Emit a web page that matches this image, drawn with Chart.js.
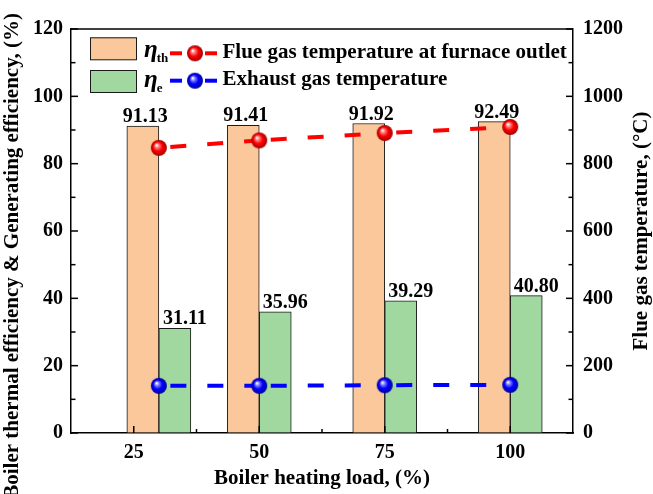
<!DOCTYPE html>
<html><head><meta charset="utf-8">
<script src="https://cdn.jsdelivr.net/npm/chart.js@4.4.0/dist/chart.umd.min.js"></script>
<style>html,body{margin:0;padding:0;background:#fff;}canvas{display:block;}</style>
</head><body>
<canvas id="c" width="653" height="494"></canvas>
<script>
// ---- data ----
const loads = [30, 50, 75, 100];               // x position of each group
const xTickLabels = [25, 50, 75, 100];
const etaTh = [91.13, 91.41, 91.92, 92.49];      // boiler thermal efficiency (%)
const etaE = [31.11, 35.96, 39.29, 40.80];       // generating efficiency (%)
const furnaceOutletTemp = [847, 869, 891, 909];  // °C
const exhaustTemp = [140, 140, 142, 143];        // °C
const leftTickValues = [0, 20, 40, 60, 80, 100, 120];
const rightTickValues = [0, 200, 400, 600, 800, 1000, 1200];
const barSymbols = ['η', 'η'];
const barSubscripts = ['th', 'e'];
const lineLabels = ['Flue gas temperature at furnace outlet', 'Exhaust gas temperature'];

const FONT = "'Liberation Serif', 'Times New Roman', serif";
const ORANGE = '#FAC89B', GREEN = '#A0D8A0';

function sphere(base, light, dark, r) {
  const s = Math.ceil(r * 2 + 2);
  const c = document.createElement('canvas');
  c.width = s; c.height = s;
  const g = c.getContext('2d');
  const cx = s / 2, cy = s / 2;
  const grad = g.createRadialGradient(cx - r * 0.3, cy - r * 0.35, r * 0.05, cx, cy, r);
  grad.addColorStop(0, '#ffffff');
  grad.addColorStop(0.22, light);
  grad.addColorStop(0.55, base);
  grad.addColorStop(1, dark);
  g.fillStyle = grad;
  g.beginPath(); g.arc(cx, cy, r, 0, Math.PI * 2); g.fill();
  return c;
}
const redBall = sphere('#ff0000', '#ff8080', '#a00000', 8);
const blueBall = sphere('#0000ff', '#8080ff', '#0000a0', 8);

const DASH = [16, 21];
const DASH_OFFSET = 25.5;

function lineDataset(label, values, color, ball) {
  return {
    type: 'line', label,
    data: loads.map((x, i) => ({ x, y: values[i] })),
    yAxisID: 'y2', xAxisID: 'x',
    borderColor: color, backgroundColor: color,
    borderWidth: 4, borderDash: DASH, borderDashOffset: DASH_OFFSET,
    segment: { borderDashOffset: c => DASH_OFFSET + c.p0DataIndex * 0.001 },
    pointStyle: ball, pointRadius: 8, pointHoverRadius: 8,
    fill: false, tension: 0, order: 0
  };
}
function barDataset(label, values, color) {
  return {
    type: 'bar', label,
    data: loads.map((x, i) => ({ x, y: values[i] })),
    yAxisID: 'y', xAxisID: 'x',
    backgroundColor: color, borderColor: '#1a1a1a', borderWidth: 1,
    barThickness: 32, order: 1
  };
}

function drawLine(ctx, x1, y1, x2, y2) {
  ctx.beginPath(); ctx.moveTo(x1, y1); ctx.lineTo(x2, y2); ctx.stroke();
}

const axisDecor = {
  id: 'axisDecor',
  afterDatasetsDraw(chart) {
    const { ctx, chartArea: a, scales } = chart;
    ctx.save();
    ctx.strokeStyle = '#000';
    ctx.lineWidth = 1.5;
    drawLine(ctx, a.left, a.top, a.right, a.top);
    // x ticks (inward) + minor
    const xs = scales.x;
    const xStep = xTickLabels[1] - xTickLabels[0];
    xTickLabels.forEach(v => {
      const p = xs.getPixelForValue(v);
      drawLine(ctx, p, a.bottom, p, a.bottom - 7);
    });
    xTickLabels.forEach(v => {
      const m = v + xStep / 2;
      if (m < xs.max) { const p = xs.getPixelForValue(m); drawLine(ctx, p, a.bottom, p, a.bottom - 4); }
    });
    // left y
    const ys = scales.y;
    const yStep = leftTickValues[1] - leftTickValues[0];
    leftTickValues.forEach(v => {
      const p = ys.getPixelForValue(v);
      drawLine(ctx, a.left, p, a.left + 7, p);
      const m = v + yStep / 2;
      if (m < ys.max) { const q = ys.getPixelForValue(m); drawLine(ctx, a.left, q, a.left + 4.5, q); }
    });
    const y2 = scales.y2;
    const y2Step = rightTickValues[1] - rightTickValues[0];
    rightTickValues.forEach(v => {
      const p = y2.getPixelForValue(v);
      drawLine(ctx, a.right, p, a.right - 7, p);
      const m = v + y2Step / 2;
      if (m < y2.max) { const q = y2.getPixelForValue(m); drawLine(ctx, a.right, q, a.right - 4.5, q); }
    });
    ctx.restore();

    // value labels above bars
    ctx.save();
    ctx.fillStyle = '#000';
    ctx.font = 'bold 20px ' + FONT;
    ctx.textAlign = 'center';
    ctx.textBaseline = 'alphabetic';
    const shifts = [2.5, 10];
    [2, 3].forEach((di, k) => {
      const meta = chart.getDatasetMeta(di);
      const vals = k === 0 ? etaTh : etaE;
      meta.data.forEach((el, i) => {
        ctx.fillText(vals[i].toFixed(2), el.x + shifts[k], el.y - 4);
      });
    });
    ctx.restore();
  },
  afterDraw(chart) {
    const { ctx, chartArea: a } = chart;
    const ds = chart.data.datasets;
    ctx.save();
    // y titles
    ctx.fillStyle = '#000';
    ctx.font = 'bold 21px ' + FONT;
    ctx.textBaseline = 'middle';
    ctx.save();
    ctx.translate(13, 13);
    ctx.rotate(-Math.PI / 2);
    ctx.textAlign = 'right';
    ctx.fillText('Boiler thermal efficiency & Generating efficiency, (%)', 0, 0);
    ctx.restore();
    ctx.save();
    ctx.translate(642, (a.top + a.bottom) / 2);
    ctx.rotate(-Math.PI / 2);
    ctx.textAlign = 'center';
    ctx.fillText('Flue gas temperature, (°C)', 0, 0);
    ctx.restore();

    // legend
    const rows = [
      { bar: ds[2], line: ds[0], ball: redBall, rectY: 37.3, etaBase: 57, subBase: 62, lineY: 53.3, textBase: 57.5 },
      { bar: ds[3], line: ds[1], ball: blueBall, rectY: 70, etaBase: 87, subBase: 92, lineY: 80.7, textBase: 85 }
    ];
    rows.forEach((r, i) => {
      ctx.fillStyle = r.bar.backgroundColor;
      ctx.fillRect(90, r.rectY, 46.7, 22.7);
      ctx.strokeStyle = r.bar.borderColor;
      ctx.lineWidth = 1;
      ctx.strokeRect(90.5, r.rectY + 0.5, 46, 22);
      ctx.fillStyle = '#000';
      ctx.textAlign = 'left';
      ctx.textBaseline = 'alphabetic';
      ctx.font = 'italic bold 25px ' + FONT;
      ctx.fillText(barSymbols[i], 144, r.etaBase);
      const w = ctx.measureText(barSymbols[i]).width;
      ctx.font = 'bold 13px ' + FONT;
      ctx.fillText(barSubscripts[i], 144 + w - 1, r.subBase);
      ctx.strokeStyle = r.line.borderColor;
      ctx.lineWidth = 4;
      drawLine(ctx, 170, r.lineY, 182, r.lineY);
      drawLine(ctx, 205, r.lineY, 217, r.lineY);
      ctx.drawImage(r.ball, 195 - r.ball.width / 2, r.lineY - r.ball.height / 2);
      ctx.fillStyle = '#000';
      ctx.font = 'bold 21px ' + FONT;
      ctx.fillText(r.line.label, 222.5, r.textBase);
    });
    ctx.restore();
  }
};

const tickFont = { family: FONT, size: 20, weight: 'bold' };
const plainTicks = v => String(v);

new Chart(document.getElementById('c'), {
  type: 'bar',
  data: {
    datasets: [
      lineDataset(lineLabels[0], furnaceOutletTemp, '#ff0000', redBall),
      lineDataset(lineLabels[1], exhaustTemp, '#0000ff', blueBall),
      barDataset(barSymbols[0] + barSubscripts[0], etaTh, ORANGE),
      barDataset(barSymbols[1] + barSubscripts[1], etaE, GREEN)
    ]
  },
  options: {
    responsive: false,
    animation: false,
    devicePixelRatio: 1,
    layout: { padding: { top: 29, left: 0, right: 0, bottom: 0 } },
    plugins: { legend: { display: false }, tooltip: { enabled: false } },
    scales: {
      x: {
        type: 'linear', position: 'bottom', min: 12.5, max: 112.5, offset: false,
        afterBuildTicks: s => { s.ticks = xTickLabels.map(v => ({ value: v })); },
        afterFit: s => { s.height = 61; },
        ticks: { color: '#000', font: tickFont, padding: 7.5, maxRotation: 0, autoSkip: false, callback: plainTicks },
        grid: { display: true, drawOnChartArea: false, drawTicks: false },
        border: { display: true, color: '#000', width: 1.5 },
        title: { display: true, text: 'Boiler heating load, (%)', color: '#000',
                 font: { family: FONT, size: 21, weight: 'bold' }, padding: { top: 0, bottom: 3 } }
      },
      y: {
        type: 'linear', position: 'left', min: 0, max: 120,
        afterBuildTicks: s => { s.ticks = leftTickValues.map(v => ({ value: v })); },
        afterFit: s => { s.width = 71; },
        ticks: { color: '#000', font: tickFont, padding: 8, callback: plainTicks },
        grid: { display: true, drawOnChartArea: false, drawTicks: false },
        border: { display: true, color: '#000', width: 1.5 }
      },
      y2: {
        type: 'linear', position: 'right', min: 0, max: 1200,
        afterBuildTicks: s => { s.ticks = rightTickValues.map(v => ({ value: v })); },
        afterFit: s => { s.width = 80; },
        ticks: { color: '#000', font: tickFont, padding: 10, callback: plainTicks },
        grid: { display: true, drawOnChartArea: false, drawTicks: false },
        border: { display: true, color: '#000', width: 1.5 }
      }
    }
  },
  plugins: [axisDecor]
});
</script>
</body></html>
